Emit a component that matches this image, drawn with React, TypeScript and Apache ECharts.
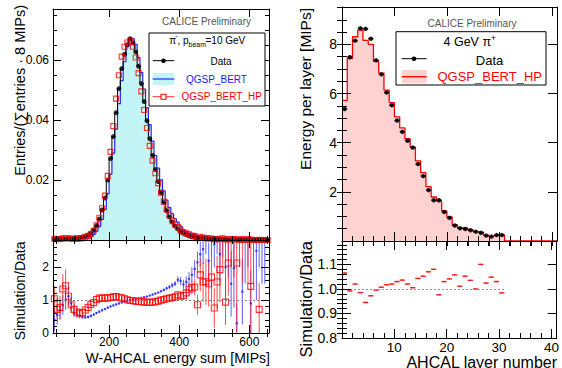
import React, { useEffect, useRef } from "react";
import * as echarts from "echarts";

const FONT = "'Liberation Sans', Arial, Helvetica, sans-serif";

// ---------- Left panel: W-AHCAL energy sum, 8-MIP bins starting at 40 ----------
const eBinStart = 40;
const eBinWidth = 8;
const eData = [
  0.0004, 0.0004, 0.0004, 0.0004, 0.0004, 0.0005, 0.0005, 0.0006, 0.0007, 0.0008,
  0.001, 0.0013, 0.0017, 0.0023, 0.0033, 0.0048, 0.007, 0.01, 0.014, 0.02,
  0.0272, 0.0345, 0.0425, 0.0505, 0.0572, 0.062, 0.0652, 0.0672, 0.0658, 0.0628,
  0.058, 0.0522, 0.0462, 0.0398, 0.0338, 0.0282, 0.0235, 0.0195, 0.0158, 0.0125,
  0.0098, 0.0077, 0.006, 0.0047, 0.0037, 0.0029, 0.0023, 0.0018, 0.0014, 0.0011,
  0.0009, 0.0007, 0.0006, 0.0005, 0.0004, 0.0004, 0.0003, 0.0003, 0.0002, 0.0002,
  0.0002, 0.0002, 0.0001, 0.0001, 0.0001, 0.0001, 0.0001, 0.0001, 0.0001, 0.0001,
  0.0001, 0.0001, 0.0001, 0.0001, 0.0001, 0.00005, 0,
];
const eBert = [
  0.00016, 0.00022, 0.00028, 0.00034, 0.0004, 0.00056, 0.00045, 0.00036, 0.00039, 0.00042,
  0.00049, 0.00062, 0.00083, 0.0012, 0.00185, 0.00293, 0.00455, 0.0069, 0.0102, 0.0154,
  0.022, 0.029, 0.037, 0.0455, 0.0532, 0.0595, 0.0645, 0.0672, 0.0671, 0.0653,
  0.0609, 0.0559, 0.0504, 0.0442, 0.0385, 0.033, 0.0282, 0.024, 0.0201, 0.0164,
  0.0133, 0.0108, 0.0087, 0.0071, 0.006, 0.0046, 0.0034, 0.0028, 0.0023, 0.0019,
  0.0018, 0.0015, 0.0014, 0.0013, 0.0012, 0.0009, 0.001, 0.0008, 0.0007, 0.0005,
  0.0007, 0.0004, 0.0003, 0.00015, 0.0002, 0.00003, 0.00035, 0.00013, 0.0003, 0.0004,
  0.0001, 0.0003, 0.00025, 0.0004, 0.0003, 0.0002, 0.0001,
];
const eBertHP = [
  0.00042, 0.00029, 0.00031, 0.00054, 0.00058, 0.00056, 0.00043, 0.00043, 0.00045, 0.00048,
  0.00062, 0.00091, 0.00133, 0.002, 0.00307, 0.0049, 0.00742, 0.0106, 0.0148, 0.0214,
  0.0294, 0.038, 0.0472, 0.055, 0.0612, 0.0645, 0.0659, 0.0665, 0.0645, 0.0609,
  0.0557, 0.0496, 0.0434, 0.0374, 0.0314, 0.0265, 0.0223, 0.0189, 0.0158, 0.0128,
  0.0102, 0.0082, 0.0065, 0.0052, 0.0043, 0.0032, 0.0026, 0.0022, 0.0019, 0.0015,
  0.0013, 0.0006, 0.0011, 0.0008, 0.0006, 0.0006, 0.0005, 0.0002, 0.0003, 0.0004,
  0.0006, 0.0002, 0.0002, 0.00035, 0.0003, 0.0002, 0, 0.0003, 0, 0.00035,
  0.00014, 0, 0, 0.00007, 0, 0, 0,
];
const eRatioBert = [
  0.4, 0.55, 0.7, 0.85, 1.0, 1.12, 0.9, 0.6, 0.56, 0.52,
  0.49, 0.48, 0.49, 0.52, 0.56, 0.61, 0.65, 0.69, 0.73, 0.77,
  0.81, 0.84, 0.87, 0.9, 0.93, 0.96, 0.99, 1.0, 1.02, 1.04,
  1.05, 1.07, 1.09, 1.11, 1.14, 1.17, 1.2, 1.23, 1.27, 1.31,
  1.36, 1.4, 1.45, 1.5, 1.62, 1.58, 1.48, 1.55, 1.65, 1.77,
  1.95, 2.15, 2.4, 2.55, 3.0, 2.2, 3.2, 2.7, 3.4, 2.4,
  3.5, 2.0, 3.0, 1.5, 1.98, 0.3, 3.5, 1.26, 3.0, 4.0,
  0.9, 3.0, 2.5, 4.0, 3.0, 3.5, null,
];
const eRatioBertErr = [
  0.35, 0.3, 0.3, 0.3, 0.3, 0.25, 0.2, 0.12, 0.1, 0.08,
  0.06, 0.05, 0.04, 0.04, 0.03, 0.03, 0.03, 0.03, 0.03, 0.03,
  0.02, 0.02, 0.02, 0.02, 0.02, 0.02, 0.02, 0.02, 0.02, 0.02,
  0.02, 0.02, 0.02, 0.02, 0.02, 0.02, 0.02, 0.02, 0.03, 0.04,
  0.05, 0.06, 0.07, 0.08, 0.1, 0.12, 0.14, 0.17, 0.2, 0.23,
  0.27, 0.32, 0.38, 0.45, 0.6, 0.55, 0.8, 0.7, 1.0, 0.8,
  1.2, 0.9, 1.3, 1.0, 1.2, 0.6, 1.5, 1.0, 1.5, 2.0,
  1.0, 1.5, 1.5, 2.0, 1.5, 2.0, 0,
];
const eRatioHP = [
  1.04, 0.72, 0.78, 1.34, 1.44, 1.12, 0.86, 0.72, 0.64, 0.6,
  0.62, 0.7, 0.78, 0.87, 0.93, 1.02, 1.06, 1.06, 1.06, 1.07,
  1.08, 1.1, 1.11, 1.09, 1.07, 1.04, 1.01, 0.99, 0.98, 0.97,
  0.96, 0.95, 0.94, 0.94, 0.93, 0.94, 0.95, 0.97, 1.0, 1.02,
  1.04, 1.06, 1.08, 1.1, 1.16, 1.12, 1.14, 1.22, 1.33, 1.38,
  1.4, 0.86, 1.77, 1.55, 1.56, 1.5, 1.7, 0.76, 1.55, 1.93,
  3.2, 0.94, 2.13, 3.5, 3.2, 2.13, null, 3.0, null, 3.5,
  1.42, null, null, 0.72, null, null, null,
];
const eRatioHPErr = [
  0.4, 0.35, 0.35, 0.45, 0.5, 0.3, 0.22, 0.15, 0.1, 0.08,
  0.07, 0.06, 0.05, 0.04, 0.03, 0.03, 0.03, 0.03, 0.03, 0.03,
  0.02, 0.02, 0.02, 0.02, 0.02, 0.02, 0.02, 0.02, 0.02, 0.02,
  0.02, 0.02, 0.02, 0.02, 0.02, 0.02, 0.02, 0.02, 0.03, 0.04,
  0.05, 0.06, 0.07, 0.08, 0.1, 0.1, 0.12, 0.14, 0.18, 0.2,
  0.25, 0.3, 0.5, 0.6, 0.7, 0.7, 0.8, 0.6, 0.8, 1.0,
  1.2, 0.7, 1.0, 1.5, 1.5, 2.1, 0, 1.5, 0, 2.0,
  1.42, 0, 0, 0.8, 0, 0, 0,
];

// ---------- Right panel: energy per AHCAL layer, unit bins starting at 0 ----------
const lBinStart = 0;
const lBinWidth = 1;
const layerData = [
  5.37, 7.48, 8.15, 8.65, 8.63, 8.23, 7.35, 6.78, 6.04, 5.52,
  4.9, 4.44, 4.08, 3.8, 3.13, 2.64, 2.07, 1.66, 1.66, 1.18,
  0.94, 0.63, 0.52, 0.49, 0.44, 0.38, 0.33, 0.22, 0.18, 0.24, 0.24,
];
const layerMC = [
  5.72, 7.42, 8.31, 8.58, 8.16, 8.0, 7.31, 6.83, 6.14, 5.63,
  5.05, 4.6, 4.16, 3.82, 3.26, 2.78, 2.21, 1.79, 1.62, 1.22,
  0.98, 0.67, 0.53, 0.52, 0.45, 0.38, 0.36, 0.23, 0.19, 0.23, 0.24,
  0, 0, 0, 0, 0, 0, 0, 0, 0, 0,
];
const layerRatio = [
  1.065, 0.992, 1.02, 0.985, 0.945, 0.972, 0.995, 1.007, 1.017, 1.02,
  1.03, 1.036, 1.02, 1.005, 1.043, 1.052, 1.07, 1.08, 0.976, 1.03,
  1.041, 1.057, 1.011, 1.052, 1.035, 1.0, 1.1, 1.024, 1.048, 1.03, 0.984,
];

// ---------- axis tick / label values ----------
const eMainYTicks = [0, 0.02, 0.04, 0.06];
const eMainYLabels = [0.02, 0.04, 0.06];
const eRatioYLabels = [0, 1, 2];
const eXLabels = [200, 400, 600];
const lMainYLabels = [2, 4, 6, 8];
const lRatioYLabels = [0.8, 0.9, 1.0, 1.1];
const lXLabels = [10, 20, 30, 40];

function range(a: number, b: number, step: number): number[] {
  const out: number[] = [];
  for (let v = a; v <= b + 1e-9; v += step) out.push(Math.round(v * 1e6) / 1e6);
  return out;
}

function stepPoints(start: number, width: number, vals: number[]) {
  const pts: number[][] = [];
  vals.forEach((v, i) => pts.push([start + i * width, v]));
  pts.push([start + vals.length * width, vals[vals.length - 1]]);
  return pts;
}

type AxCfg = {
  grid: number;
  min: number;
  max: number;
  major: number[];
  minor: number[];
  labels?: number[];
  fmt?: (v: number) => string;
  fontSize?: number;
  margin?: number;
  majorLen: number;
  minorLen: number;
};

function makeAxes(dim: "x" | "y", c: AxCfg) {
  const pos = dim === "x" ? ["bottom", "top"] : ["left", "right"];
  const res: any[] = [];
  pos.forEach((p, k) => {
    const common = {
      type: "value",
      gridIndex: c.grid,
      min: c.min,
      max: c.max,
      position: p,
      z: 10,
      splitLine: { show: false },
    };
    res.push({
      ...common,
      axisLine: { show: true, onZero: false, lineStyle: { color: "#000", width: 1 } },
      axisTick: { show: true, inside: true, length: c.majorLen, customValues: c.major, lineStyle: { color: "#000", width: 1 } },
      axisLabel:
        k === 0 && c.labels
          ? {
              show: true,
              customValues: c.labels,
              formatter: c.fmt,
              fontSize: c.fontSize,
              fontFamily: FONT,
              color: "#000",
              margin: c.margin,
            }
          : { show: false },
    });
    res.push({
      ...common,
      axisLine: { show: false },
      axisTick: { show: true, inside: true, length: c.minorLen, customValues: c.minor, lineStyle: { color: "#000", width: 1 } },
      axisLabel: { show: false },
    });
  });
  return res;
}

function vErr(color: string, width: number) {
  return (params: any, api: any) => {
    const x = api.value(0);
    const lo = api.value(2);
    const hi = api.value(3);
    const p1 = api.coord([x, lo]);
    const p2 = api.coord([x, hi]);
    return {
      type: "line",
      shape: { x1: p1[0], y1: p1[1], x2: p2[0], y2: p2[1] },
      style: { stroke: color, lineWidth: width },
    };
  };
}

function crossErr(color: string, width: number) {
  return (params: any, api: any) => {
    const x = api.value(0);
    const y = api.value(1);
    const xl = api.value(2);
    const xr = api.value(3);
    const yl = api.value(4);
    const yh = api.value(5);
    const a = api.coord([xl, y]);
    const b = api.coord([xr, y]);
    const c = api.coord([x, yl]);
    const d = api.coord([x, yh]);
    return {
      type: "group",
      children: [
        { type: "line", shape: { x1: a[0], y1: a[1], x2: b[0], y2: b[1] }, style: { stroke: color, lineWidth: width } },
        { type: "line", shape: { x1: c[0], y1: c[1], x2: d[0], y2: d[1] }, style: { stroke: color, lineWidth: 1 } },
      ],
    };
  };
}

export default function App() {
  const ref = useRef<HTMLDivElement>(null);
  useEffect(() => {
    if (!ref.current) return;
    const chart = echarts.init(ref.current, undefined, { renderer: "svg" });

    const eCenters = eData.map((_, i) => eBinStart + (i + 0.5) * eBinWidth);
    const lCenters = layerData.map((_, i) => lBinStart + (i + 0.5) * lBinWidth);

    const grids = [
      { left: 53, top: 9, width: 216, height: 231 },
      { left: 53, top: 240, width: 216, height: 93 },
      { left: 342, top: 7, width: 215, height: 234 },
      { left: 342, top: 241, width: 215, height: 97 },
    ].map((g) => ({ ...g, show: false, containLabel: false }));

    const xAxes = [
      ...makeAxes("x", { grid: 0, min: 40, max: 656, major: [200, 400, 600], minor: range(50, 650, 50), majorLen: 8, minorLen: 4 }),
      ...makeAxes("x", {
        grid: 1, min: 40, max: 656, major: [200, 400, 600], minor: range(50, 650, 50), labels: eXLabels,
        fmt: (v) => String(v), fontSize: 12, margin: 3, majorLen: 8, minorLen: 4,
      }),
      ...makeAxes("x", { grid: 2, min: 0, max: 41, major: [10, 20, 30, 40], minor: range(2, 40, 2), majorLen: 9, minorLen: 5 }),
      ...makeAxes("x", {
        grid: 3, min: 0, max: 41, major: [10, 20, 30, 40], minor: range(2, 40, 2), labels: lXLabels,
        fmt: (v) => String(v), fontSize: 13.5, margin: 2.5, majorLen: 9, minorLen: 5,
      }),
    ];
    const yAxes = [
      ...makeAxes("y", {
        grid: 0, min: 0, max: 0.0771, major: eMainYTicks, minor: range(0.005, 0.075, 0.005), labels: eMainYLabels,
        fmt: (v) => String(v), fontSize: 12, margin: 4, majorLen: 8, minorLen: 4,
      }),
      ...makeAxes("y", {
        grid: 1, min: 0, max: 2.83, major: [0, 1, 2], minor: range(0.2, 2.8, 0.2), labels: eRatioYLabels,
        fmt: (v) => String(v), fontSize: 12, margin: 4, majorLen: 8, minorLen: 4,
      }),
      ...makeAxes("y", {
        grid: 2, min: 0, max: 9.52, major: [0, 2, 4, 6, 8], minor: range(0.5, 9.5, 0.5), labels: lMainYLabels,
        fmt: (v) => String(v), fontSize: 14, margin: 5, majorLen: 9, minorLen: 5,
      }),
      ...makeAxes("y", {
        grid: 3, min: 0.8, max: 1.1955, major: [0.8, 0.9, 1.0, 1.1], minor: range(0.82, 1.18, 0.02), labels: lRatioYLabels,
        fmt: (v) => v.toFixed(1), fontSize: 14, margin: 5, majorLen: 9, minorLen: 5,
      }),
    ];
    const ax = (g: number) => ({ xAxisIndex: g * 4, yAxisIndex: g * 4 });

    const series: any[] = [
      // ----- left main -----
      {
        type: "line", ...ax(0), step: "end", symbol: "none", data: stepPoints(eBinStart, eBinWidth, eBert),
        lineStyle: { color: "#2626ff", width: 1.2 }, areaStyle: { color: "#c4f5f6", opacity: 1 }, z: 2,
      },
      {
        type: "line", ...ax(0), step: "end", symbol: "none", data: stepPoints(eBinStart, eBinWidth, eData),
        lineStyle: { color: "#000", width: 1 }, z: 3,
      },
      {
        type: "scatter", ...ax(0), symbol: "circle", symbolSize: 5, data: eData.map((v, i) => [eCenters[i], v]),
        itemStyle: { color: "#000" }, z: 4,
      },
      {
        type: "scatter", ...ax(0), symbol: "rect", symbolSize: 5, data: eBertHP.map((v, i) => [eCenters[i], v]),
        itemStyle: { color: "rgba(0,0,0,0)", borderColor: "#ff0000", borderWidth: 1.1 }, z: 5,
      },
      // ----- left ratio -----
      {
        type: "custom", ...ax(1), clip: true, renderItem: vErr("rgba(40,40,255,0.75)", 1),
        encode: { x: 0, y: 1 },
        data: eRatioBert
          .map((v, i) => (v == null ? null : [eCenters[i], v, v - eRatioBertErr[i], v + eRatioBertErr[i]]))
          .filter((d) => d !== null),
        z: 2,
      },
      {
        type: "custom", ...ax(1), clip: true, renderItem: vErr("rgba(255,30,30,0.8)", 1),
        encode: { x: 0, y: 1 },
        data: eRatioHP
          .map((v, i) => (v == null ? null : [eCenters[i], v, v - eRatioHPErr[i], v + eRatioHPErr[i]]))
          .filter((d) => d !== null),
        z: 3,
      },
      {
        type: "scatter", ...ax(1), symbol: "circle", symbolSize: 2.5,
        data: eRatioBert.map((v, i) => (v == null ? null : [eCenters[i], v])).filter((d) => d !== null),
        itemStyle: { color: "#2020ff" }, z: 4,
        markLine: {
          silent: true, symbol: "none", label: { show: false },
          lineStyle: { color: "#888", type: [2, 2], width: 1 },
          data: [{ yAxis: 1 }],
        },
      },
      {
        type: "scatter", ...ax(1), symbol: "rect", symbolSize: 6,
        data: eRatioHP.map((v, i) => (v == null ? null : [eCenters[i], v])).filter((d) => d !== null),
        itemStyle: { color: "rgba(0,0,0,0)", borderColor: "#ff0000", borderWidth: 1.1 }, z: 5,
      },
      // ----- right main -----
      {
        type: "line", ...ax(2), step: "end", symbol: "none", data: stepPoints(lBinStart, lBinWidth, layerMC),
        lineStyle: { color: "#ff0000", width: 1.3 }, areaStyle: { color: "#ffd2d2", opacity: 1 }, z: 2,
      },
      {
        type: "custom", ...ax(2), clip: true, renderItem: crossErr("#000", 1.3),
        encode: { x: 0, y: 1 },
        data: layerData.map((v, i) => [lCenters[i], v, lCenters[i] - 0.5, lCenters[i] + 0.5, v - 0.06, v + 0.06]),
        z: 3,
      },
      {
        type: "scatter", ...ax(2), symbol: "circle", symbolSize: 4.5, data: layerData.map((v, i) => [lCenters[i], v]),
        itemStyle: { color: "#000" }, z: 4,
      },
      // ----- right ratio -----
      {
        type: "custom", ...ax(3), clip: true, renderItem: crossErr("#ff1a1a", 1.4),
        encode: { x: 0, y: 1 },
        data: layerRatio.map((v, i) => [lCenters[i], v, lCenters[i] - 0.5, lCenters[i] + 0.5, v - 0.003, v + 0.003]),
        z: 3,
        markLine: {
          silent: true, symbol: "none", label: { show: false },
          lineStyle: { color: "#999", type: [2, 2], width: 1 },
          data: [[{ coord: [lBinStart, 1] }, { coord: [lBinStart + layerData.length * lBinWidth, 1] }]],
        },
      },
    ];

    const txt = (x: number, y: number, text: string, o: any = {}) => ({
      type: "text",
      x,
      y,
      rotation: o.rotation || 0,
      z: 100,
      style: {
        text,
        fill: o.fill || "#000",
        fontSize: o.fontSize || 12,
        fontFamily: FONT,
        align: o.align || "center",
        verticalAlign: o.verticalAlign || "middle",
      },
    });

    const graphic: any[] = [
      // left panel annotations
      txt(206.5, 21.7, "CALICE Preliminary", { fontSize: 10, fill: "#555" }),
      { type: "rect", z: 90, shape: { x: 149, y: 33, width: 116, height: 73 }, style: { fill: "#fff", stroke: "#000", lineWidth: 1 } },
      txt(169.3, 40, "π", { fontSize: 10, align: "left" }),
      txt(175.3, 35.5, "-", { fontSize: 7, align: "left" }),
      txt(177.5, 40, ", p", { fontSize: 10, align: "left" }),
      txt(188.5, 44.5, "beam", { fontSize: 7, align: "left" }),
      txt(205.5, 40, "=10 GeV", { fontSize: 10, align: "left" }),
      { type: "line", z: 95, shape: { x1: 152.7, y1: 60.7, x2: 174.3, y2: 60.7 }, style: { stroke: "#000", lineWidth: 1 } },
      { type: "circle", z: 96, shape: { cx: 163.5, cy: 60.7, r: 2.3 }, style: { fill: "#000" } },
      txt(221, 61, "Data", { fontSize: 10 }),
      { type: "rect", z: 95, shape: { x: 152.7, y: 73, width: 21.6, height: 12 }, style: { fill: "#c4f5f6" } },
      { type: "line", z: 96, shape: { x1: 152.7, y1: 79, x2: 174.3, y2: 79 }, style: { stroke: "#2626ff", lineWidth: 1.2 } },
      txt(216.5, 79, "QGSP_BERT", { fontSize: 10, fill: "#2020ff" }),
      { type: "line", z: 95, shape: { x1: 152.7, y1: 96.7, x2: 174.3, y2: 96.7 }, style: { stroke: "#ff3030", lineWidth: 1 } },
      { type: "rect", z: 96, shape: { x: 161, y: 94.2, width: 5, height: 5 }, style: { fill: "#fff", stroke: "#ff0000", lineWidth: 1.1 } },
      txt(221.7, 96.7, "QGSP_BERT_HP", { fontSize: 10, fill: "#ff0000" }),
      // left axis titles
      txt(20, 5, "Entries/(∑entries · 8 MIPs)", { fontSize: 14.5, rotation: Math.PI / 2, align: "right" }),
      txt(20, 241.5, "Simulation/Data", { fontSize: 14, rotation: Math.PI / 2, align: "right" }),
      txt(270, 357.7, "W-AHCAL energy sum [MIPs]", { fontSize: 14, align: "right" }),
      // right panel annotations
      txt(472, 23.3, "CALICE Preliminary", { fontSize: 10, fill: "#555" }),
      { type: "rect", z: 90, shape: { x: 396, y: 31.7, width: 150, height: 53.3 }, style: { fill: "#fff", stroke: "#000", lineWidth: 1 } },
      txt(443.5, 42, "4 GeV π", { fontSize: 12.5, align: "left" }),
      txt(491, 37.5, "+", { fontSize: 8.5, align: "left" }),
      { type: "line", z: 95, shape: { x1: 401.7, y1: 58.7, x2: 426.7, y2: 58.7 }, style: { stroke: "#000", lineWidth: 1 } },
      { type: "circle", z: 96, shape: { cx: 414, cy: 58.7, r: 2.3 }, style: { fill: "#000" } },
      txt(489.5, 60, "Data", { fontSize: 13 }),
      { type: "rect", z: 95, shape: { x: 401.7, y: 70, width: 25, height: 13.3 }, style: { fill: "#ffd2d2" } },
      { type: "line", z: 96, shape: { x1: 401.7, y1: 76.7, x2: 426.7, y2: 76.7 }, style: { stroke: "#ff0000", lineWidth: 1.3 } },
      txt(489.7, 76.7, "QGSP_BERT_HP", { fontSize: 13, fill: "#ff0000" }),
      // right axis titles
      txt(305.5, 8, "Energy per layer [MIPs]", { fontSize: 15.5, rotation: Math.PI / 2, align: "right" }),
      txt(305.5, 241, "Simulation/Data", { fontSize: 16.5, rotation: Math.PI / 2, align: "right" }),
      txt(557, 362.5, "AHCAL layer number", { fontSize: 16, align: "right" }),
    ];

    chart.setOption({
      animation: false,
      backgroundColor: "#fff",
      textStyle: { fontFamily: FONT },
      grid: grids,
      xAxis: xAxes,
      yAxis: yAxes,
      series,
      graphic,
    });
    return () => chart.dispose();
  }, []);

  return <div ref={ref} style={{ position: "absolute", left: 0, top: 0, width: 562, height: 368 }} />;
}
